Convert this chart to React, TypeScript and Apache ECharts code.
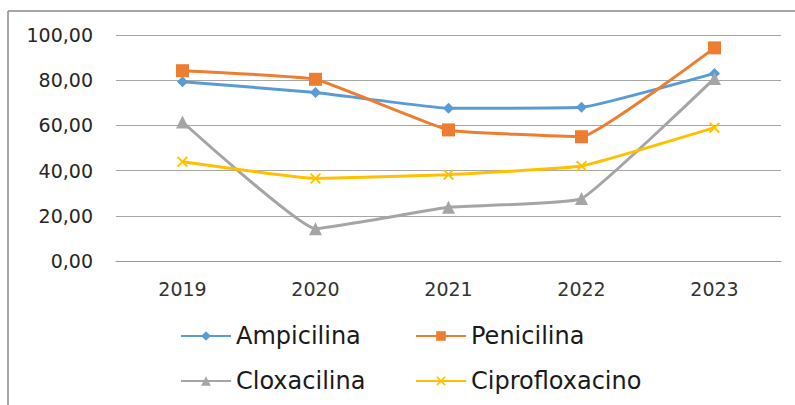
import React, { useEffect, useRef } from "react";
import * as echarts from "echarts";

const years = ["2019", "2020", "2021", "2022", "2023"];
const ampicilina = [79.3, 74.6, 67.6, 68.0, 83.0];
const penicilina = [84.2, 80.4, 58.0, 55.0, 94.3];
const cloxacilina = [61.5, 14.3, 23.8, 27.6, 80.8];
const ciprofloxacino = [43.9, 36.5, 38.2, 42.0, 59.0];
const seriesNames = ["Ampicilina", "Penicilina", "Cloxacilina", "Ciprofloxacino"];

const xSymbol =
  "path://M0,1.2 L1.2,0 L5,3.8 L8.8,0 L10,1.2 L6.2,5 L10,8.8 L8.8,10 L5,6.2 L1.2,10 L0,8.8 L3.8,5 Z";

export default function App() {
  const ref = useRef<HTMLDivElement>(null);
  useEffect(() => {
    if (!ref.current) return;
    const chart = echarts.init(ref.current, undefined, { renderer: "svg" });
    const font = "DejaVu Sans";
    const legendBase = {
      orient: "horizontal",
      itemWidth: 50,
      itemHeight: 12,
      itemGap: 5,
      padding: 5,
      textStyle: { fontFamily: font, fontSize: 24, color: "#1a1a1a" },
      selectedMode: false,
    };
    const mk = (name: string, data: number[], color: string, symbol: string, size: number, smooth: number) => ({
      name,
      type: "line",
      data,
      smooth,
      symbol,
      symbolSize: size,
      lineStyle: { color, width: 3 },
      itemStyle: { color },
    });
    chart.setOption({
      animation: false,
      backgroundColor: "#fff",
      grid: { left: 116, right: 14, top: 35, bottom: 144 },
      xAxis: {
        type: "category",
        data: years,
        boundaryGap: true,
        axisLine: { show: true, lineStyle: { color: "#999", width: 1 } },
        axisTick: { show: false },
        axisLabel: { fontFamily: font, fontSize: 19, color: "#333", margin: 18 },
      },
      yAxis: {
        type: "value",
        min: 0,
        max: 100,
        interval: 20,
        axisLine: { show: false },
        axisTick: { show: false },
        splitLine: { lineStyle: { color: "#a6a6a6", width: 1 } },
        axisLabel: {
          fontFamily: font,
          fontSize: 19,
          color: "#262626",
          margin: 23,
          formatter: (v: number) => v.toFixed(2).replace(".", ","),
        },
      },
      legend: [
        { ...legendBase, data: [seriesNames[0]], left: 175, top: 319 },
        { ...legendBase, data: [seriesNames[1]], left: 410, top: 319 },
        { ...legendBase, data: [seriesNames[2]], left: 175, top: 364 },
        { ...legendBase, data: [seriesNames[3]], left: 410, top: 364 },
      ],
      graphic: [
        { type: "line", shape: { x1: 8, y1: 11, x2: 795, y2: 11 }, style: { stroke: "#8a8a8a", lineWidth: 1.5 } },
        { type: "line", shape: { x1: 8, y1: 11, x2: 8, y2: 405 }, style: { stroke: "#8a8a8a", lineWidth: 1.5 } },
      ],
      series: [
        mk(seriesNames[0], ampicilina, "#5B9BD5", "diamond", 11, 0.1),
        mk(seriesNames[1], penicilina, "#ED7D31", "rect", 13, 0.1),
        mk(seriesNames[2], cloxacilina, "#A5A5A5", "triangle", 13, 0.1),
        mk(seriesNames[3], ciprofloxacino, "#FFC000", xSymbol, 11, 0.1),
      ],
    });
    return () => chart.dispose();
  }, []);
  return (
    <div
      ref={ref}
      style={{ position: "fixed", left: 0, top: 0, width: 795, height: 405 }}
    />
  );
}
